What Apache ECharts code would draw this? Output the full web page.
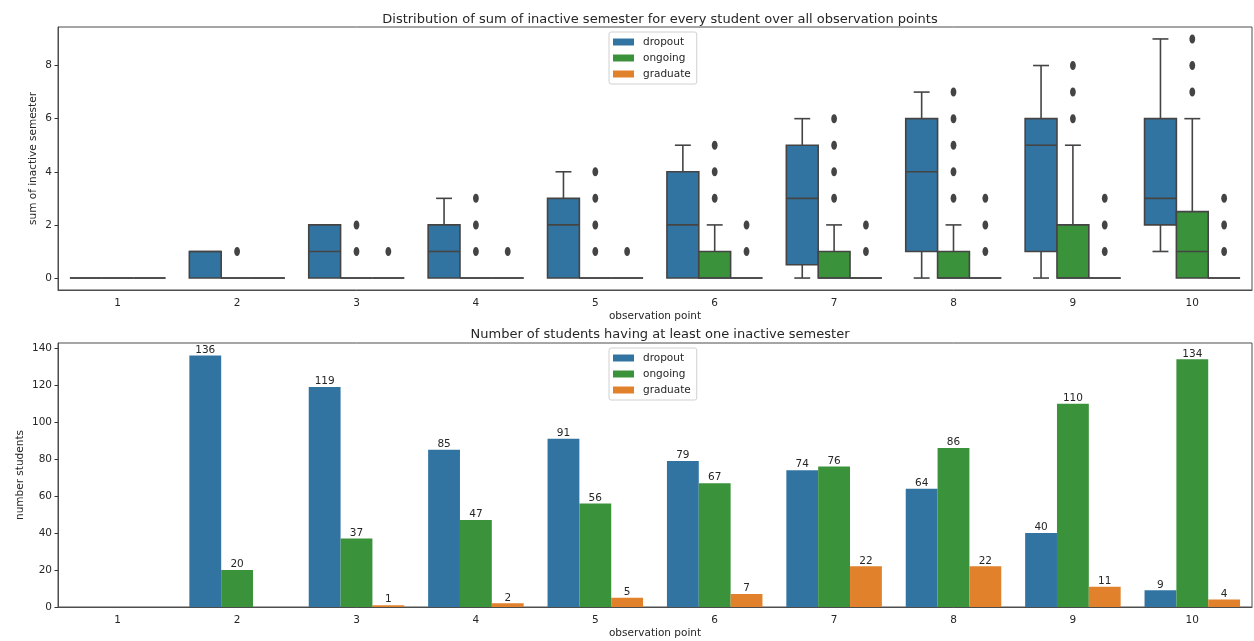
<!DOCTYPE html>
<html>
<head>
<meta charset="utf-8">
<script src="https://cdn.jsdelivr.net/npm/echarts@6/dist/echarts.min.js"></script>
<style>
html, body { margin: 0; padding: 0; background: #fff; }
#chart { width: 1254px; height: 641px; }
</style>
</head>
<body>
<div id="chart"></div>
<script>
// observation points
const categories = ['1', '2', '3', '4', '5', '6', '7', '8', '9', '10']
const hues = ['dropout', 'ongoing', 'graduate']

// box stats per observation point: [min, q1, median, q3, max]
const dropoutBox = [
  [0, 0, 0, 0, 0], [0, 0, 1, 1, 1], [0, 0, 1, 2, 2], [0, 0, 1, 2, 3], [0, 0, 2, 3, 4],
  [0, 0, 2, 4, 5], [0, 0.5, 3, 5, 6], [0, 1, 4, 6, 7], [0, 1, 5, 6, 8], [1, 2, 3, 6, 9]
]
const ongoingBox = [
  [0, 0, 0, 0, 0], [0, 0, 0, 0, 0], [0, 0, 0, 0, 0], [0, 0, 0, 0, 0], [0, 0, 0, 0, 0],
  [0, 0, 0, 1, 2], [0, 0, 0, 1, 2], [0, 0, 0, 1, 2], [0, 0, 0, 2, 5], [0, 0, 1, 2.5, 6]
]
const graduateBox = [
  [0, 0, 0, 0, 0], [0, 0, 0, 0, 0], [0, 0, 0, 0, 0], [0, 0, 0, 0, 0], [0, 0, 0, 0, 0],
  [0, 0, 0, 0, 0], [0, 0, 0, 0, 0], [0, 0, 0, 0, 0], [0, 0, 0, 0, 0], [0, 0, 0, 0, 0]
]
// outliers per observation point
const dropoutOutliers = [[], [], [], [], [], [], [], [], [], []]
const ongoingOutliers = [[], [1], [1, 2], [1, 2, 3], [1, 2, 3, 4], [3, 4, 5], [3, 4, 5, 6], [3, 4, 5, 6, 7], [6, 7, 8], [7, 8, 9]]
const graduateOutliers = [[], [], [1], [1], [1], [1, 2], [1, 2], [1, 2, 3], [1, 2, 3], [1, 2, 3]]

// number of students having at least one inactive semester
const dropoutCount = [null, 136, 119, 85, 91, 79, 74, 64, 40, 9]
const ongoingCount = [null, 20, 37, 47, 56, 67, 76, 86, 110, 134]
const graduateCount = [null, null, 1, 2, 5, 7, 22, 22, 11, 4]

const topTicks = [0, 2, 4, 6, 8]
const bottomTicks = [0, 20, 40, 60, 80, 100, 120, 140]

const colors = ['#3274a1', '#3a923a', '#e1812c']
const lineGray = '#444444'
const textColor = '#262626'
const font = 'DejaVu Sans'

const boxRender = (hue) => (params, api) => {
  const cat = api.value(0)
  const band = api.size([1, 0])[0]
  const w = band * 0.8 / 3
  const cx = api.coord([cat, 0])[0] + (hue - 1) * w
  const y = (i) => api.coord([cat, api.value(i)])[1]
  const yMin = y(1), yQ1 = y(2), yMed = y(3), yQ3 = y(4), yMax = y(5)
  const line = { stroke: lineGray, lineWidth: 1.6 }
  const children = []
  if (yMax < yQ3) {
    children.push({ type: 'line', shape: { x1: cx, y1: yQ3, x2: cx, y2: yMax }, style: line })
    children.push({ type: 'line', shape: { x1: cx - w / 4, y1: yMax, x2: cx + w / 4, y2: yMax }, style: line })
  }
  if (yMin > yQ1) {
    children.push({ type: 'line', shape: { x1: cx, y1: yQ1, x2: cx, y2: yMin }, style: line })
    children.push({ type: 'line', shape: { x1: cx - w / 4, y1: yMin, x2: cx + w / 4, y2: yMin }, style: line })
  }
  children.push({
    type: 'rect',
    shape: { x: cx - w / 2, y: yQ3, width: w, height: yQ1 - yQ3 },
    style: { fill: colors[hue], stroke: lineGray, lineWidth: 1.6 }
  })
  children.push({ type: 'line', shape: { x1: cx - w / 2, y1: yMed, x2: cx + w / 2, y2: yMed }, style: line })
  return { type: 'group', children }
}

const outlierRender = (hue) => (params, api) => {
  const cat = api.value(0)
  const band = api.size([1, 0])[0]
  const w = band * 0.8 / 3
  const p = api.coord([cat, api.value(1)])
  return {
    type: 'ellipse',
    shape: { cx: p[0] + (hue - 1) * w, cy: p[1], rx: 2.9, ry: 4.5 },
    style: { fill: lineGray }
  }
}

const boxLists = [dropoutBox, ongoingBox, graduateBox]
const outlierLists = [dropoutOutliers, ongoingOutliers, graduateOutliers]
const countLists = [dropoutCount, ongoingCount, graduateCount]

const series = []
hues.forEach((name, h) => {
  series.push({
    name: name,
    type: 'custom',
    xAxisIndex: 0,
    yAxisIndex: 0,
    itemStyle: { color: colors[h] },
    renderItem: boxRender(h),
    encode: { x: 0, y: [1, 2, 3, 4, 5] },
    data: boxLists[h].map((b, i) => [i, ...b])
  })
})
hues.forEach((name, h) => {
  const pts = []
  outlierLists[h].forEach((vals, i) => vals.forEach(v => pts.push([i, v])))
  series.push({
    name: name + ' outliers',
    type: 'custom',
    xAxisIndex: 0,
    yAxisIndex: 0,
    z: 3,
    renderItem: outlierRender(h),
    encode: { x: 0, y: 1 },
    data: pts
  })
})
hues.forEach((name, h) => {
  series.push({
    name: name,
    type: 'bar',
    xAxisIndex: 1,
    yAxisIndex: 1,
    barGap: '0%',
    barCategoryGap: '20%',
    itemStyle: { color: colors[h] },
    label: {
      show: true,
      position: 'top',
      distance: 0,
      color: textColor,
      fontFamily: font,
      fontSize: 10.5,
      formatter: (p) => p.value == null ? '' : p.value
    },
    data: countLists[h]
  })
})

const legendBase = {
  left: 609,
  orient: 'vertical',
  data: hues,
  icon: 'rect',
  itemWidth: 21,
  itemHeight: 7,
  itemGap: 4,
  padding: [4, 6, 4, 4],
  backgroundColor: '#fff',
  borderColor: '#d0d0d0',
  borderWidth: 1,
  borderRadius: 2,
  selectedMode: false,
  textStyle: { fontFamily: font, fontSize: 10.5, color: textColor, lineHeight: 12, padding: [0, 0, 0, 4] }
}

const axisText = { fontFamily: font, fontSize: 10.5, color: textColor }
const frame = { show: true, lineStyle: { color: '#4d4d4d', width: 1 } }

const chart = echarts.init(document.getElementById('chart'))
chart.setOption({
  animation: false,
  title: [
    {
      text: 'Distribution of sum of inactive semester for every student over all observation points',
      left: 655, textAlign: 'center', top: 8,
      textStyle: { fontFamily: font, fontSize: 13, fontWeight: 'normal', color: textColor }
    },
    {
      text: 'Number of students having at least one inactive semester',
      left: 655, textAlign: 'center', top: 323,
      textStyle: { fontFamily: font, fontSize: 13, fontWeight: 'normal', color: textColor }
    }
  ],
  legend: [
    Object.assign({}, legendBase, { top: 32 }),
    Object.assign({}, legendBase, { top: 348 })
  ],
  grid: [
    { left: 58, top: 27, width: 1194, height: 263, show: true, borderColor: '#4d4d4d', borderWidth: 1 },
    { left: 58, top: 343, width: 1194, height: 264, show: true, borderColor: '#4d4d4d', borderWidth: 1 }
  ],
  xAxis: [
    {
      type: 'category', gridIndex: 0, data: categories,
      name: 'observation point', nameLocation: 'middle', nameGap: 21,
      nameTextStyle: axisText,
      axisLine: Object.assign({ onZero: false }, frame),
      axisTick: { alignWithLabel: true, length: 3.5, lineStyle: { color: '#333' } },
      axisLabel: Object.assign({ margin: 8 }, axisText),
      splitLine: { show: false }
    },
    {
      type: 'category', gridIndex: 1, data: categories,
      name: 'observation point', nameLocation: 'middle', nameGap: 21,
      nameTextStyle: axisText,
      axisLine: Object.assign({ onZero: false }, frame),
      axisTick: { alignWithLabel: true, length: 3.5, lineStyle: { color: '#333' } },
      axisLabel: Object.assign({ margin: 8 }, axisText),
      splitLine: { show: false }
    }
  ],
  yAxis: [
    {
      type: 'value', gridIndex: 0, min: -0.45, max: 9.45,
      name: 'sum of inactive semester', nameLocation: 'middle', nameGap: 19,
      nameMoveOverlap: false,
      nameTextStyle: axisText,
      axisLine: frame,
      axisTick: { show: true, length: 3.5, customValues: topTicks, lineStyle: { color: '#333' } },
      axisLabel: Object.assign({ margin: 6, customValues: topTicks }, axisText),
      splitLine: { show: false }
    },
    {
      type: 'value', gridIndex: 1, min: 0, max: 142.8,
      name: 'number students', nameLocation: 'middle', nameGap: 32,
      nameMoveOverlap: false,
      nameTextStyle: axisText,
      axisLine: frame,
      axisTick: { show: true, length: 3.5, customValues: bottomTicks, lineStyle: { color: '#333' } },
      axisLabel: Object.assign({ margin: 6, customValues: bottomTicks }, axisText),
      splitLine: { show: false }
    }
  ],
  series: series
})
</script>
</body>
</html>
